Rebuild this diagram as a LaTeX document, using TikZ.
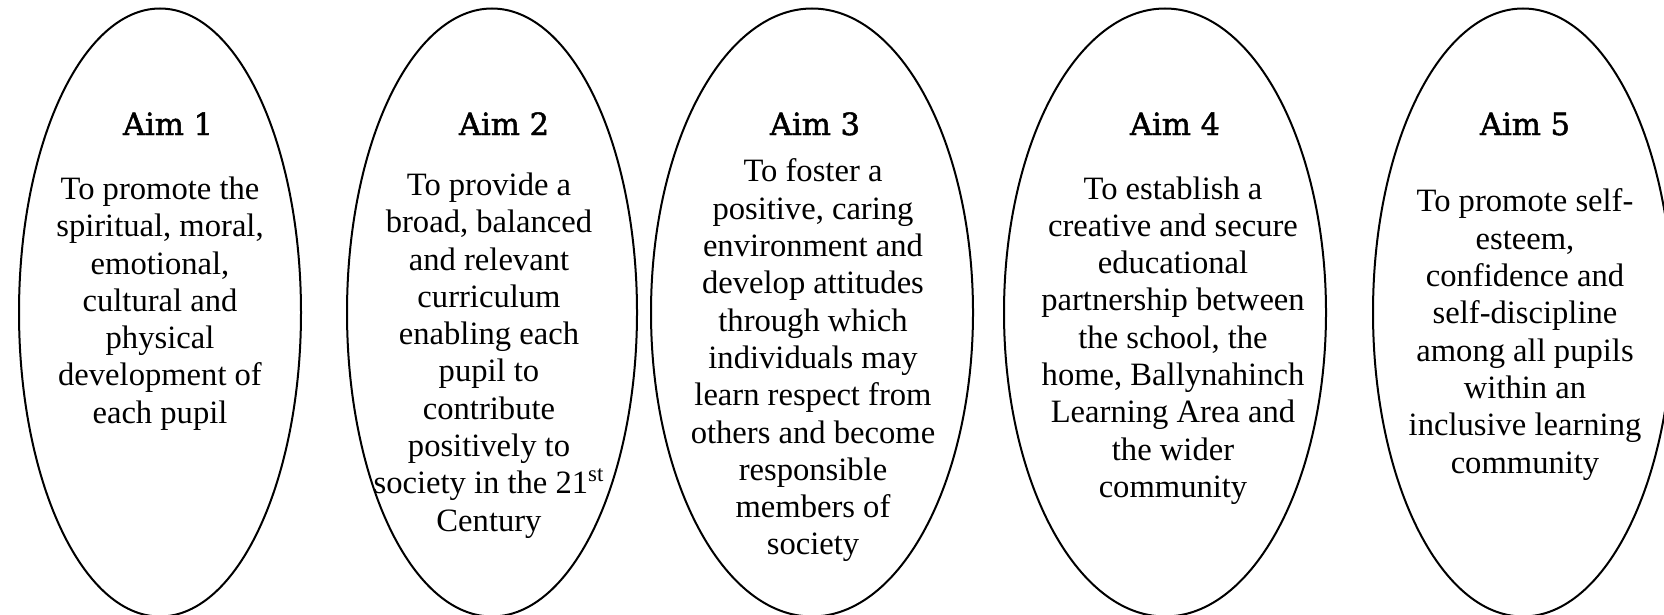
\documentclass[tikz,border=0pt]{standalone}
\usepackage{fontspec}
\setmainfont{Liberation Serif}
\newfontfamily\titlefont[FakeBold=1.6]{DejaVu Serif}
\usetikzlibrary{shapes.geometric}
\tikzset{
  aimell/.style={ellipse, draw=black, line width=1pt, inner sep=0pt, minimum height=304pt},
  aimtitle/.style={anchor=base, inner sep=0pt, font=\titlefont\fontsize{15.3}{18}\selectfont},
  aimbody/.style={anchor=center, inner sep=0pt, align=center, font=\fontsize{16.3}{18.65}\selectfont}
}
\begin{document}
\begin{tikzpicture}[x=0.5pt, y=-0.5pt]
\useasboundingbox (0,0) rectangle (1664,615);
\clip (0,0) rectangle (1664,615);
\node[aimell, minimum width=141pt] (e1) at (160,312.5) {};
\node[aimell, minimum width=145pt] (e2) at (492,312.5) {};
\node[aimell, minimum width=161pt] (e3) at (812,312.5) {};
\node[aimell, minimum width=161pt] (e4) at (1165,312.5) {};
\node[aimell, minimum width=150pt] (e5) at (1523,312.5) {};

\node[aimtitle] (t1) at (168,135) {Aim 1};
\node[aimtitle] (t2) at (504,135) {Aim 2};
\node[aimtitle] (t3) at (815,135) {Aim 3};
\node[aimtitle] (t4) at (1175,135) {Aim 4};
\node[aimtitle] (t5) at (1525,135) {Aim 5};

\node[aimbody] (b1) at (160,303.5) {To promote the\\spiritual, moral,\\emotional,\\cultural and\\physical\\development of\\each pupil};
\node[aimbody] (b2) at (489,355.5) {To provide a\\broad, balanced\\and relevant\\curriculum\\enabling each\\pupil to\\contribute\\positively to\\society in the 21\textsuperscript{st}\\Century};
\node[aimbody] (b3) at (813,360.5) {To foster a\\positive, caring\\environment and\\develop attitudes\\through which\\individuals may\\learn respect from\\others and become\\responsible\\members of\\society};
\node[aimbody] (b4) at (1173,340.5) {To establish a\\creative and secure\\educational\\partnership between\\the school, the\\home, Ballynahinch\\Learning Area and\\the wider\\community};
\node[aimbody] (b5) at (1525,334.5) {To promote self-\\esteem,\\confidence and\\self-discipline\\among all pupils\\within an\\inclusive learning\\community};
\end{tikzpicture}
\end{document}
